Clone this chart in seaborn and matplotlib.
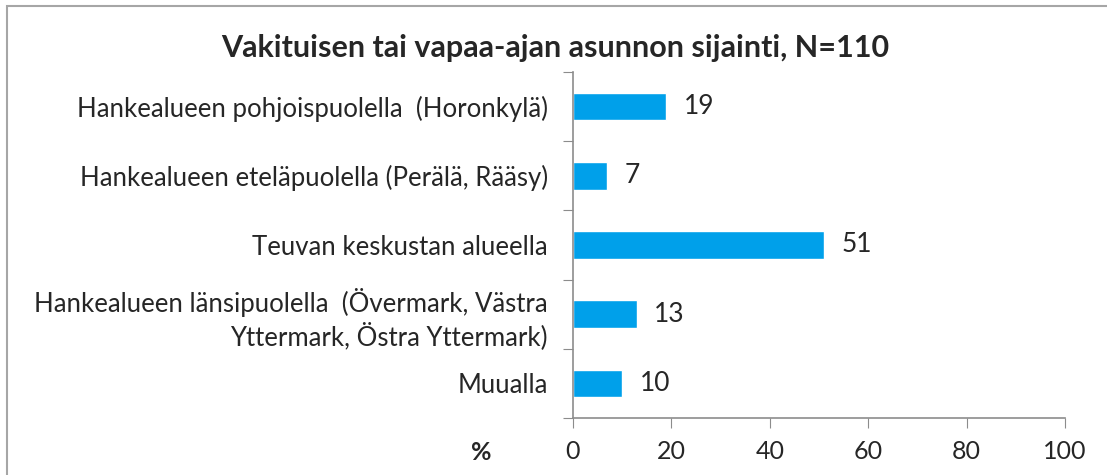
import matplotlib
matplotlib.use("Agg")
import matplotlib.pyplot as plt
import seaborn as sns
import pandas as pd
from matplotlib.patches import Rectangle

# Data
categories = [
    "Hankealueen pohjoispuolella  (Horonkylä)",
    "Hankealueen eteläpuolella (Perälä, Rääsy)",
    "Teuvan keskustan alueella",
    "Hankealueen länsipuolella  (Övermark, Västra\nYttermark, Östra Yttermark)",
    "Muualla",
]
values = [19, 7, 51, 13, 10]
x_ticks = [0, 20, 40, 60, 80, 100]

df = pd.DataFrame({"Sijainti": categories, "Osuus": values})

sns.set_style("white")
plt.rcParams["font.family"] = ["Lato", "DejaVu Sans"]

fig = plt.figure(figsize=(11.07, 4.75), dpi=100)
ax = fig.add_axes([573 / 1107, 1 - 418 / 475, (1065 - 573) / 1107, (418 - 72) / 475])

sns.barplot(data=df, x="Osuus", y="Sijainti", color="#00A0EA", width=0.4,
            saturation=1, ax=ax, orient="h")

ax.set_xlim(0, 100)
ax.set_ylim(len(categories) - 0.5, -0.5)
ax.set_xticks(x_ticks)
ax.set_xticklabels([str(t) for t in x_ticks], fontsize=18)
ax.set_xlabel("")
ax.set_ylabel("")

# y ticks at category boundaries, labels at centres
ax.set_yticks([i - 0.5 for i in range(len(categories) + 1)], minor=False)
ax.set_yticklabels([])
ax.set_yticks(range(len(categories)), minor=True)
ax.set_yticklabels(categories, minor=True, fontsize=18.5, multialignment="right")
ax.tick_params(axis="y", which="minor", length=0, pad=18)
ax.tick_params(axis="y", which="major", length=7, color="#8c8c8c", direction="out", left=True)
ax.tick_params(axis="x", length=7, color="#8c8c8c", direction="out", bottom=True, pad=9)

for side in ["top", "right"]:
    ax.spines[side].set_visible(False)
for side in ["left", "bottom"]:
    ax.spines[side].set_color("#8c8c8c")
    ax.spines[side].set_linewidth(1.2)

for i, v in enumerate(values):
    ax.text(v + 3.5, i, str(v), va="center", ha="left", fontsize=19)

fig.text(481 / 1107, 1 - 453 / 475, "%", fontsize=18, fontweight="bold",
         ha="center", va="center")
fig.suptitle("Vakituisen tai vapaa-ajan asunnon sijainti, N=110", x=555 / 1107,
             y=1 - 48 / 475, va="center", fontsize=22, fontweight="bold")

fig.patches.append(Rectangle((7 / 1107, -0.1), 1.2, 1 - 6 / 475 + 0.1,
                             transform=fig.transFigure, fill=False,
                             edgecolor="#a6a6a6", linewidth=1.5))

fig.savefig("out.png", dpi=100)
